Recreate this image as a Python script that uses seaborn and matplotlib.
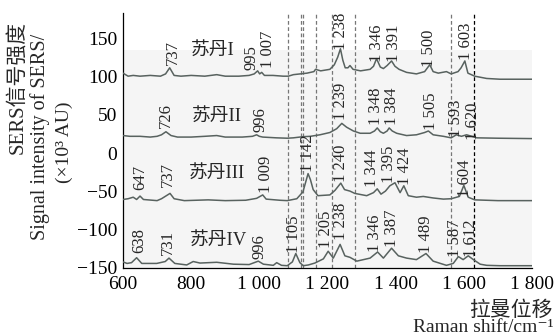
import matplotlib

matplotlib.use("Agg")
import matplotlib.pyplot as plt  # noqa: E402
import pandas as pd  # noqa: E402
import seaborn as sns  # noqa: E402

# ---- data ----
samples = ["苏丹I", "苏丹II", "苏丹III", "苏丹IV"]

sudan1_shift = [600, 615, 630, 650, 680, 710, 725, 737, 750, 770, 800, 840, 875, 900,
                940, 970, 985, 995, 1001, 1007, 1015, 1040, 1070, 1085, 1100, 1120,
                1140, 1160, 1165, 1180, 1207, 1220, 1230, 1238, 1245, 1252, 1260, 1266,
                1275, 1297, 1325, 1335, 1344, 1355, 1364, 1375, 1388, 1398, 1410, 1432,
                1461, 1485, 1500, 1510, 1525, 1549, 1563, 1583, 1592, 1603, 1612, 1632,
                1667, 1706, 1750, 1800]
sudan1_int = [105, 101, 102, 101, 102, 101, 104, 112, 102, 101, 102, 101, 103, 101,
              101, 102, 104, 108, 104, 106, 102, 102, 101, 101, 103, 104,
              105, 107, 110, 108, 110, 116, 126, 137, 122, 112, 112, 115,
              110, 108, 110, 114, 124, 113, 111, 115, 121, 114, 110, 106,
              104, 107, 116, 107, 105, 107, 104, 107, 112, 121, 105, 101,
              98, 97, 97, 97]

sudan2_shift = [600, 620, 650, 680, 700, 713, 726, 741, 760, 800, 840, 875, 900, 950,
                980, 992, 1000, 1010, 1050, 1082, 1100, 1128, 1150, 1178, 1207, 1227,
                1242, 1256, 1276, 1296, 1325, 1338, 1346, 1355, 1364, 1375, 1381, 1390,
                1403, 1432, 1461, 1485, 1496, 1510, 1540, 1563, 1578, 1593, 1608, 1623,
                1638, 1700, 1800]
sudan2_int = [23, 22, 22, 21, 22, 24, 28, 23, 21, 21, 22, 23, 21, 21,
              22, 24, 22, 21, 20, 19.5, 20, 21.5, 22, 24, 27, 32,
              39, 34, 29, 26, 26, 29, 33, 28, 26, 29, 33, 29,
              26, 23, 24, 27, 29, 24, 22, 20, 24, 22, 24, 22,
              20, 19.5, 19]

sudan3_shift = [600, 615, 630, 640, 650, 660, 700, 713, 738, 750, 780, 850, 900, 960,
                992, 1010, 1020, 1060, 1082, 1110, 1128, 1143, 1150, 1158, 1172, 1207,
                1222, 1239, 1250, 1266, 1280, 1315, 1335, 1346, 1357, 1370, 1383, 1398,
                1413, 1424, 1437, 1461, 1481, 1510, 1540, 1563, 1587, 1600, 1613, 1632,
                1700, 1800]
sudan3_int = [-61, -60, -58, -61, -56.5, -61, -62.5, -60, -53, -60, -62.5, -61.5, -62.5, -62,
              -59.5, -55, -60.5, -62, -62.5, -60, -51, -27, -35, -48, -56, -55,
              -49, -39.5, -48, -50, -53, -56, -52, -47, -54, -50, -43, -39,
              -52, -43, -56, -58, -57, -59, -60.5, -60, -57, -42.5, -58, -61.5,
              -62.5, -62.5]

sudan4_shift = [600, 612, 625, 640, 655, 699, 724, 735, 752, 787, 806, 826, 875, 924,
                970, 997, 1012, 1041, 1051, 1065, 1082, 1097, 1107, 1119, 1129, 1144,
                1163, 1188, 1202, 1217, 1237, 1251, 1266, 1286, 1325, 1347, 1364, 1388,
                1408, 1432, 1461, 1489, 1510, 1549, 1569, 1584, 1598, 1613, 1628, 1648,
                1667, 1706, 1800]
sudan4_int = [-143, -145, -144, -137.5, -145, -145, -142.5, -138, -145, -147, -142.5, -144.5, -143.5, -146,
              -146.5, -142, -146, -147.5, -144, -147.5, -148, -143, -132, -144, -148, -147,
              -144.5, -139, -129, -138, -120, -135, -137, -142, -138, -130, -138, -125,
              -135, -138, -140, -132, -142, -147.5, -145, -136, -140, -135, -140, -146,
              -147.5, -148, -148]

sample_label_x = [864, 876, 875, 879]
sample_label_y = [135, 47.7, -26.7, -114]

peak_text = ["737", "995", "1 007", "1 238", "1 346", "1 391", "1 500", "1 603",
             "726", "996", "1 239", "1 348", "1 384", "1 505", "1 593", "1 620",
             "647", "737", "1 009", "1 142", "1 240", "1 344", "1 395", "1 424", "1 604",
             "638", "731", "996", "1 105", "1 205", "1 238", "1 346", "1 387", "1 489",
             "1 587", "1 612"]
peak_x = [746, 978, 1026, 1239, 1344, 1395, 1499, 1606,
          725, 1002, 1239, 1342, 1388, 1503, 1576, 1628,
          650, 733, 1019, 1144, 1239, 1332, 1381, 1427, 1603,
          647, 731, 1000, 1103, 1195, 1239, 1339, 1388, 1488,
          1575, 1620]
peak_y = [115.6, 109, 111.7, 135, 120, 120, 113.4, 122,
          32.5, 28, 43.4, 36.8, 36.8, 30, 21, 17,
          -48.6, -44.3, -53, -24.6, -37.7, -44, -39.4, -42, -57.4,
          -131.8, -134, -139.7, -131.8, -125, -114, -129.7, -123, -131.8,
          -136, -136]

band_lines = [1084, 1121, 1127, 1165, 1214, 1281, 1562, 1631]

x_ticks = [600, 800, 1000, 1200, 1400, 1600, 1800]
x_tick_labels = ["600", "800", "1 000", "1 200", "1 400", "1 600", "1 800"]
y_ticks = [-150, -100, -50, 0, 50, 100, 150]
y_tick_labels = ["\u2212150", "\u2212100", "\u221250", "0", "50", "100", "150"]

# ---- table for seaborn ----
frames = []
for name, xs, ys in zip(samples,
                        [sudan1_shift, sudan2_shift, sudan3_shift, sudan4_shift],
                        [sudan1_int, sudan2_int, sudan3_int, sudan4_int]):
    frames.append(pd.DataFrame({"shift": xs, "intensity": ys, "sample": name}))
df = pd.concat(frames, ignore_index=True)

sns.set_theme(style="white")
plt.rcParams["font.family"] = ["Liberation Serif", "DejaVu Serif", "Noto Sans CJK SC"]
plt.rcParams["axes.unicode_minus"] = True

fig = plt.figure(figsize=(5.57, 3.36), dpi=100)
ax = fig.add_axes([0.2208, 0.2024, 0.7343, 0.7589])

ax.axhspan(-151, 136, color="#f5f5f5", zorder=0, lw=0)

line_color = "#58625f"
sns.lineplot(data=df, x="shift", y="intensity", hue="sample",
             palette=[line_color] * 4, legend=False, linewidth=1.1,
             estimator=None, sort=False, ax=ax, zorder=3)

for i, xv in enumerate(band_lines):
    ax.axvline(xv, color="black" if i == len(band_lines) - 1 else "#777777",
               lw=0.9, ls=(0, (3, 2)), zorder=2)

for name, xv, yv in zip(samples, sample_label_x, sample_label_y):
    ax.text(xv, yv, name, ha="center", va="center", fontsize=13.5)

# peak labels: tight, as in the source figure
for t, xv, yv in zip(peak_text, peak_x, peak_y):
    ax.text(xv, yv, t, rotation=90, ha="center", va="bottom", fontsize=12,
            linespacing=0.9, zorder=4)

ax.set_xlim(600, 1800)
ax.set_ylim(-151, 184)
ax.set_xticks(x_ticks)
ax.set_xticklabels(x_tick_labels)
ax.set_yticks(y_ticks)
ax.set_yticklabels(y_tick_labels)
ax.tick_params(direction="in", length=4, width=0.8, labelsize=14, colors="black")
ax.tick_params(axis="x", pad=6)
ax.tick_params(axis="y", pad=4)
ax.set_xlabel("")
ax.set_ylabel("")
for side in ["top", "right"]:
    ax.spines[side].set_visible(False)
for side in ["left", "bottom"]:
    ax.spines[side].set_color("black")
    ax.spines[side].set_linewidth(0.9)

fig.text(0.0305, 0.741, "SERS信号强度", rotation=90, ha="center", va="center", fontsize=15)
fig.text(0.0718, 0.592, "Signal intensity of SERS/", rotation=90, ha="center",
         va="center", fontsize=14.5)
fig.text(0.115, 0.577, "(\u00d710\u00b3 AU)", rotation=90, ha="center", va="center",
         fontsize=14)
fig.text(0.993, 1 - 311 / 336, "拉曼位移", ha="right", va="center", fontsize=15)
fig.text(0.993, 1 - 328 / 336, "Raman shift/cm\u207b\u00b9", ha="right", va="center",
         fontsize=14)

fig.savefig("out.png", dpi=100)
